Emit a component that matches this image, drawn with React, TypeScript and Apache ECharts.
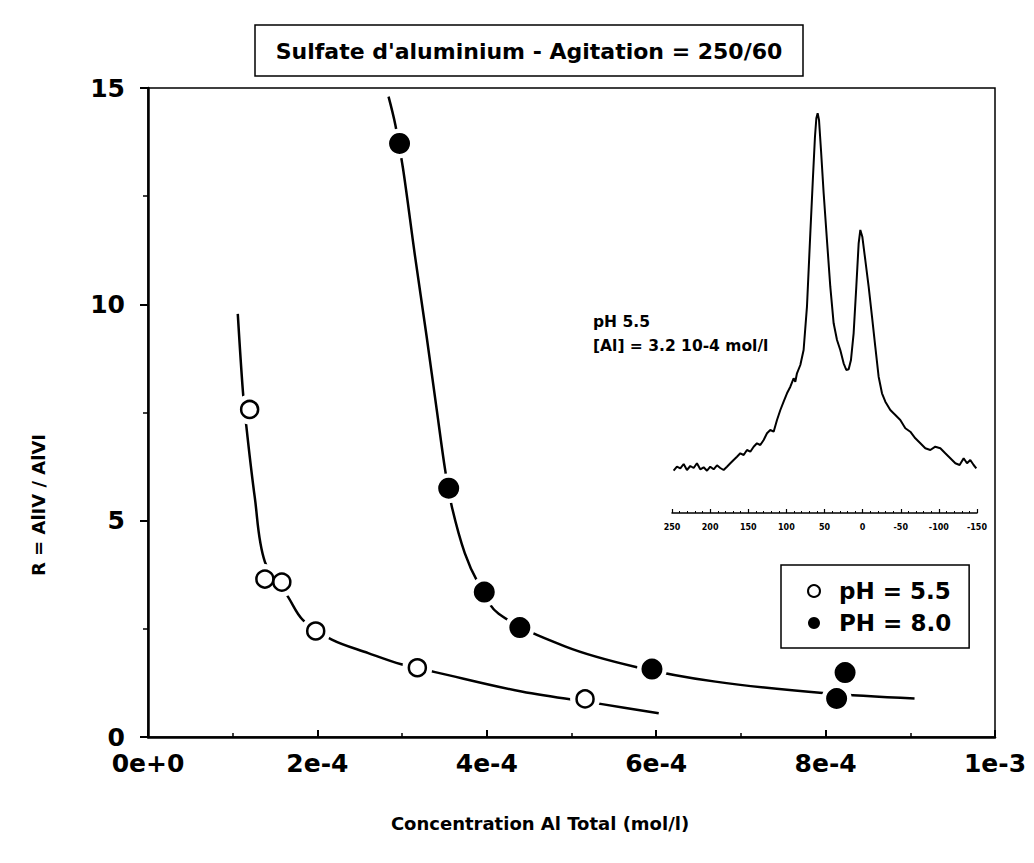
import React, { useEffect, useRef } from 'react';
import * as echarts from 'echarts';

// Measured points (x: mol/l, y: R = AlIV / AlVI)
const ph55Points: number[][] = [
  [1.2e-4, 7.57], [1.38e-4, 3.65], [1.58e-4, 3.58], [1.98e-4, 2.45], [3.18e-4, 1.6], [5.16e-4, 0.88],
];
const ph80Points: number[][] = [
  [2.97e-4, 13.72], [3.55e-4, 5.75], [3.97e-4, 3.35], [4.39e-4, 2.53], [5.95e-4, 1.57], [8.13e-4, 0.89], [8.23e-4, 1.49],
];

// Hand-drawn fitted curves
const curve55: number[][] = [
  [1.06e-4, 9.78], [1.12e-4, 8.0], [1.16e-4, 7.2], [1.26e-4, 5.55], [1.38e-4, 4.05], [1.65e-4, 3.25],
  [1.83e-4, 2.7], [2.17e-4, 2.25], [2.6e-4, 1.94], [2.99e-4, 1.68], [3.39e-4, 1.5], [4.41e-4, 1.05],
  [5.36e-4, 0.76], [6.03e-4, 0.55],
];
const curve80: number[][] = [
  [2.84e-4, 14.8], [2.92e-4, 14.15], [3.01e-4, 13.15], [3.15e-4, 11.15], [3.29e-4, 9.25], [3.41e-4, 7.55],
  [3.51e-4, 6.15], [3.59e-4, 5.3], [3.74e-4, 4.25], [3.9e-4, 3.55], [4.14e-4, 2.85], [4.93e-4, 2.09],
  [5.76e-4, 1.62], [6.7e-4, 1.28], [8.0e-4, 1.01], [9.05e-4, 0.89],
];

// Inset 27Al NMR spectrum (ppm, relative intensity)
const spectrumPpm: number[] = [
  247.9, 243.5, 239.1, 234.7, 230.4, 226.0, 221.6, 217.3, 212.9, 208.5, 204.1, 199.8, 195.4, 191.0, 186.7,
  182.3, 177.9, 173.5, 169.2, 164.8, 160.4, 156.0, 151.7, 147.3, 142.9, 138.6, 134.2, 129.8, 125.4, 121.1,
  116.7, 112.3, 107.9, 103.6, 99.2, 94.8, 90.5, 88.3, 86.1, 81.7, 77.4, 73.0, 68.6, 65.1, 62.5, 60.7, 59.0,
  57.2, 54.6, 51.1, 46.8, 42.4, 38.0, 33.6, 29.3, 24.9, 21.4, 18.3, 15.3, 11.8, 8.3, 5.2, 3.0, 0.4, -3.5,
  -7.9, -12.3, -16.6, -21.0, -25.4, -29.8, -36.3, -42.9, -49.4, -56.0, -62.5, -69.1, -75.7, -82.2, -88.8,
  -95.3, -101.9, -108.4, -115.0, -121.6, -127.2, -132.5, -136.9, -141.2, -145.6, -149.1,
];
const spectrumIntensity: number[] = [
  -0.7, 3.3, 1.7, 6, 0, 4, 2, 6.7, 0.7, 2.7, -0.7, 3.3, 0.7, 4.7, 2,
  0, 3.3, 6.7, 10, 13.3, 16.7, 15, 20, 18.3, 23.3, 26.7, 25, 30, 36.7, 40,
  38.3, 50, 60, 68.3, 76.7, 83.3, 91.7, 88.3, 96.7, 105, 120, 163.3, 236.7, 293.3, 333.3, 351.7, 356.7,
  350, 320, 276.7, 230, 183.3, 146.7, 130, 120, 106.7, 100, 100.7, 110, 136.7, 183.3, 226.7, 240, 233.3, 210,
  183.3, 153.3, 123.3, 93.3, 76.7, 68.3, 60, 55, 50, 41.7, 38.3, 31.7, 26.7, 21.7, 20,
  23.3, 21.7, 16.7, 11.7, 6.7, 5, 11.7, 6.7, 10, 5, 1.7,
];

const xTickLabels: string[] = ['0e+0', '2e-4', '4e-4', '6e-4', '8e-4', '1e-3'];
const seriesNames: string[] = ['pH = 5.5', 'PH = 8.0'];

const titleText = "Sulfate d'aluminium - Agitation = 250/60";
const xName = 'Concentration Al Total (mol/l)';
const yName = 'R = AlIV / AlVI';
const insetLines: string[] = ['pH 5.5', '[Al] = 3.2 10-4 mol/l'];

const FONT = 'DejaVu Sans';

function txt(text: string, x: number, y: number, size: number, align: string, extra: any = {}) {
  return {
    type: 'text',
    x,
    y,
    ...extra,
    style: {
      text,
      fill: '#000',
      font: `bold ${size}px "${FONT}"`,
      align,
      textAlign: align,
      verticalAlign: 'middle',
      textVerticalAlign: 'middle',
    },
  };
}

export default function App() {
  const ref = useRef<HTMLDivElement>(null);
  useEffect(() => {
    document.body.style.margin = '0';
    const chart = echarts.init(ref.current!, null, { renderer: 'svg' });
    const spectrum = spectrumPpm.map((p, i) => [p, spectrumIntensity[i]]);
    const option: any = {
      animation: false,
      backgroundColor: '#fff',
      grid: [
        { left: 148, right: 39, top: 88, bottom: 126, show: true, borderColor: '#000', borderWidth: 1.5 },
        { left: 672, right: 57, top: 112, bottom: 350, show: false },
      ],
      xAxis: [
        {
          type: 'value', gridIndex: 0, min: 0, max: 0.001, interval: 0.0002,
          axisLine: { onZero: false, lineStyle: { color: '#000', width: 2.5 } },
          axisTick: { inside: true, length: 7, lineStyle: { color: '#000', width: 2 } },
          minorTick: { show: true, splitNumber: 2, length: 4, lineStyle: { color: '#000', width: 1.5 } },
          splitLine: { show: false },
          axisLabel: {
            formatter: (v: number) => xTickLabels[Math.round(v / 0.0002)],
            fontFamily: FONT, fontWeight: 'bold', fontSize: 25, color: '#000', margin: 14,
          },
        },
        {
          type: 'value', gridIndex: 1, min: -150, max: 250, interval: 50, inverse: true,
          axisLine: { onZero: false, lineStyle: { color: '#000', width: 1.5 } },
          axisTick: { inside: true, length: 4, lineStyle: { color: '#000', width: 1.2 } },
          minorTick: { show: true, splitNumber: 5, length: 2, lineStyle: { color: '#000', width: 1 } },
          splitLine: { show: false },
          axisLabel: { fontFamily: FONT, fontWeight: 'bold', fontSize: 8, color: '#000', margin: 10 },
        },
      ],
      yAxis: [
        {
          type: 'value', gridIndex: 0, min: 0, max: 15, interval: 5,
          axisLine: { onZero: false, lineStyle: { color: '#000', width: 2.5 } },
          axisTick: { inside: false, length: 8, lineStyle: { color: '#000', width: 2 } },
          minorTick: { show: true, splitNumber: 2, length: 5, lineStyle: { color: '#000', width: 1.5 } },
          splitLine: { show: false },
          axisLabel: { fontFamily: FONT, fontWeight: 'bold', fontSize: 25, color: '#000', margin: 23 },
        },
        { type: 'value', gridIndex: 1, min: -43, max: 358, show: false },
      ],
      legend: {
        data: [
          { name: seriesNames[0], icon: 'circle', itemStyle: { color: '#fff', borderColor: '#000', borderWidth: 2 } },
          { name: seriesNames[1], icon: 'circle', itemStyle: { color: '#000', borderWidth: 0 } },
        ],
        orient: 'vertical', left: 781, top: 565,
        borderColor: '#000', borderWidth: 1.5, borderRadius: 0,
        padding: [13, 18, 12, 26], itemGap: 6, itemWidth: 40, itemHeight: 12,
        selectedMode: false,
        textStyle: { fontFamily: FONT, fontWeight: 'bold', fontSize: 23, color: '#000', lineHeight: 26 },
      },
      series: [
        {
          type: 'line', xAxisIndex: 0, yAxisIndex: 0, data: curve55, smooth: 0.35, symbol: 'none',
          lineStyle: { color: '#000', width: 2.5 }, z: 2, silent: true,
        },
        {
          type: 'line', xAxisIndex: 0, yAxisIndex: 0, data: curve80, smooth: 0.35, symbol: 'none',
          lineStyle: { color: '#000', width: 2.5 }, z: 2, silent: true,
        },
        {
          type: 'scatter', xAxisIndex: 0, yAxisIndex: 0, data: [...ph55Points, ...ph80Points],
          symbolSize: 30, itemStyle: { color: '#fff', opacity: 1 }, z: 3, silent: true,
        },
        {
          name: seriesNames[0], type: 'scatter', xAxisIndex: 0, yAxisIndex: 0, data: ph55Points,
          symbolSize: 17, itemStyle: { color: '#fff', borderColor: '#000', borderWidth: 2.5, opacity: 1 }, z: 4,
        },
        {
          name: seriesNames[1], type: 'scatter', xAxisIndex: 0, yAxisIndex: 0, data: ph80Points,
          symbolSize: 21, itemStyle: { color: '#000', opacity: 1 }, z: 4,
        },
        {
          type: 'line', xAxisIndex: 1, yAxisIndex: 1, data: spectrum, symbol: 'none', smooth: false,
          lineStyle: { color: '#000', width: 2 }, clip: false, silent: true,
        },
      ],
      graphic: [
        {
          type: 'rect', shape: { x: 255, y: 25, width: 548, height: 51 },
          style: { fill: '#fff', stroke: '#000', lineWidth: 1.5 },
        },
        txt(titleText, 529, 51, 22, 'center'),
        txt(insetLines[0], 593, 322, 15.5, 'left'),
        txt(insetLines[1], 593, 346, 15.5, 'left'),
        txt(xName, 540, 823, 18, 'center'),
        txt(yName, 38, 505, 18, 'center', { rotation: Math.PI / 2 }),
      ],
    };
    chart.setOption(option);
    return () => chart.dispose();
  }, []);
  return <div ref={ref} style={{ width: 1034, height: 863 }} />;
}
